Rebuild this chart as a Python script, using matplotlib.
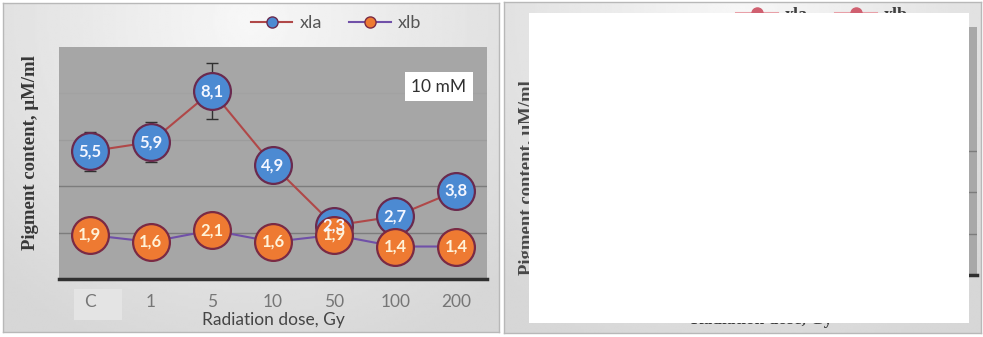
"""
Pigment content (xla, xlb) against radiation dose, 10 mM panel.
"""
import numpy as np
import matplotlib.pyplot as plt
from matplotlib.lines import Line2D
from matplotlib.patches import Rectangle

doses = ['C', '1', '5', '10', '50', '100', '200']
xla = [5.5, 5.9, 8.1, 4.9, 2.3, 2.7, 3.8]
xlb = [1.9, 1.6, 2.1, 1.6, 1.9, 1.4, 1.4]
xla_err = [0.85, 0.85, 1.2, 0.3, 0.3, 0.3, 0.3]
xlb_err = [0.2, 0.2, 0.2, 0.2, 0.2, 0.2, 0.2]

W, H = 983, 337
fig = plt.figure(figsize=(W / 100, H / 100), dpi=100)
fig.patch.set_facecolor('white')


def box(x0, y0, x1, y1):
    # pixel box -> figure fraction rect
    return [x0 / W, 1 - y1 / H, (x1 - x0) / W, (y1 - y0) / H]


def pt(x, y):
    return x / W, 1 - y / H


def panel_bg(rect):
    bg = fig.add_axes(box(*rect), zorder=-1)
    yy, xx = np.mgrid[0:1:120j, 0:1:240j]
    r = np.sqrt(((xx - 0.5) / 0.75) ** 2 + ((yy - 0.05) / 1.1) ** 2)
    g = 0.97 - 0.13 * np.clip(r, 0, 1)
    bg.imshow(g, cmap='gray', vmin=0, vmax=1, aspect='auto',
              extent=[0, 1, 1, 0], interpolation='bilinear')
    bg.set_xticks([])
    bg.set_yticks([])
    for s in bg.spines.values():
        s.set_color('#b8b8b8')
        s.set_linewidth(1)
    return bg


# ---- left panel ----
panel_bg((3, 3, 499, 332))

ax = fig.add_axes(box(59, 47, 487, 279))
ax.set_facecolor('#a6a6a6')
x = np.arange(len(doses))
ax.set_xlim(-0.5, len(doses) - 0.5)
ax.set_ylim(0, 10)
for yv, c in [(2, '#7c7c7c'), (4, '#7c7c7c'), (6, '#9c9c9c'), (8, '#a2a2a2')]:
    ax.axhline(yv, color=c, lw=1, zorder=1)

ax.errorbar(x, xla, yerr=xla_err, fmt='none', ecolor='#303030',
            elinewidth=1, capsize=4, zorder=2)
ax.plot(x, xla, color='#b04848', lw=1.5, zorder=2)
ax.plot(x, xla, 'o', ms=26.5, mfc='#4c8ad2', mec='#6a2a4e', mew=1.6,
        zorder=3)
ax.errorbar(x, xlb, yerr=xlb_err, fmt='none', ecolor='#303030',
            elinewidth=1, capsize=4, zorder=4)
ax.plot(x, xlb, color='#7050a8', lw=1.5, zorder=4)
ax.plot(x, xlb, 'o', ms=26.5, mfc='#ee7a32', mec='#7a2a44', mew=1.6,
        zorder=5)

for xi, v in zip(x, xla):
    ax.text(xi, v, f'{v:.1f}'.replace('.', ','), ha='center', va='center',
            color='#f4f6ff', fontsize=12, fontweight='bold',
            family='Lato', zorder=7)
for xi, v in zip(x, xlb):
    ax.text(xi, v, f'{v:.1f}'.replace('.', ','), ha='center', va='center',
            color='#fff2d8', fontsize=12, fontweight='bold',
            family='Lato', zorder=6)

ax.set_xticks(x)
ax.set_xticklabels(doses, family='Lato', fontsize=12.5, color='#767676')
ax.set_yticks([])
ax.tick_params(axis='x', length=0, pad=11)
for s in ['top', 'left', 'right']:
    ax.spines[s].set_visible(False)
ax.spines['bottom'].set_color('#303030')
ax.spines['bottom'].set_linewidth(2.5)

fig.add_artist(Rectangle(pt(74, 320), 48 / W, 31 / H, transform=fig.transFigure,
                         facecolor='#e4e4e4', edgecolor='none', zorder=-0.5))

fig.add_artist(Rectangle(pt(405, 101), 68 / W, 29 / H, transform=fig.transFigure,
                         facecolor='white', edgecolor='none', zorder=5))
fig.text(*pt(439, 87), '10 mM', ha='center', va='center', fontsize=12.5,
         family='Lato', color='#303030', zorder=6)

fig.text(*pt(273, 320), 'Radiation dose, Gy', ha='center', va='center',
         fontsize=12.5, family='Lato', color='#454545')
fig.text(*pt(31, 153), 'Pigment content, μM/ml', ha='center', va='center',
         rotation=90, fontsize=13.5, fontweight='bold',
         family='Liberation Serif', color='#383838')

handles = [
    Line2D([], [], color='#b04848', lw=1.5, marker='o', ms=8,
           mfc='#4c8ad2', mec='#6a2a4e'),
    Line2D([], [], color='#7050a8', lw=1.5, marker='o', ms=8,
           mfc='#ee7a32', mec='#7a2a44'),
]
fig.legend(handles, ['xla', 'xlb'], loc='center', bbox_to_anchor=pt(336, 23),
           ncol=2, frameon=False, handlelength=2.3,
           handletextpad=0.4, columnspacing=1.5,
           prop={'family': 'Lato', 'size': 13}, labelcolor='#555555')

# ---- right panel (covered by a white box) ----
panel_bg((504, 2, 981, 333))
ax2 = fig.add_axes(box(560, 27, 977, 275))
ax2.set_facecolor('#a8a8a8')
ax2.set_ylim(0, 12)
for yv in [2, 4, 6]:
    ax2.axhline(yv, color='#7c7c7c', lw=1)
ax2.set_xticks([])
ax2.set_yticks([])
for s in ['top', 'left', 'right']:
    ax2.spines[s].set_visible(False)
ax2.spines['bottom'].set_color('#303030')
ax2.spines['bottom'].set_linewidth(2.5)

handles2 = [
    Line2D([], [], color='#e8a0a8', lw=1.5, marker='o', ms=8,
           mfc='#d06070', mec='#d06070'),
    Line2D([], [], color='#e8a0a8', lw=1.5, marker='o', ms=8,
           mfc='#d06070', mec='#d06070'),
]
fig.legend(handles2, ['xla', 'xlb'], loc='center', bbox_to_anchor=pt(822, 15),
           ncol=2, frameon=False, handlelength=2.3,
           handletextpad=0.4, columnspacing=1.5,
           prop={'family': 'Liberation Serif', 'size': 13, 'weight': 'bold'},
           labelcolor='#404040')
fig.text(*pt(527, 178), 'Pigment content, μM/ml', ha='center', va='center',
         rotation=90, fontsize=13.5, fontweight='bold',
         family='Liberation Serif', color='#484848')
fig.text(*pt(762, 320), 'Radiation dose, Gy', ha='center', va='center',
         fontsize=12.5, family='Liberation Serif', fontweight='bold',
         color='#383838')

fig.add_artist(Rectangle(pt(529, 323), 440 / W, 310 / H,
                         transform=fig.transFigure, facecolor='white',
                         edgecolor='none', zorder=20))

fig.savefig('out.png', dpi=100)
